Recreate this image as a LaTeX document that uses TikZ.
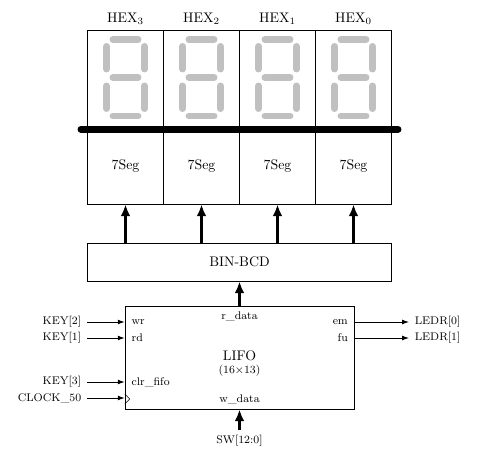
\documentclass[tikz,border=0pt]{standalone}
\usetikzlibrary{arrows.meta}
\definecolor{seggray}{RGB}{192,192,192}
\begin{document}
\begin{tikzpicture}[x=0.72pt,y=0.72pt,yscale=-1,xscale=1,
  disp/.style={draw,inner sep=0pt,minimum width=54.7pt,minimum height=71.3pt},
  segbox/.style={draw,inner sep=0pt,minimum width=54.7pt,minimum height=54pt},
  blk/.style={draw,inner sep=0pt},
  bus/.style={line width=5pt,line cap=round},
  seg/.style={seggray,line width=5pt,line cap=round},
  up/.style={line width=1.8pt,-{Latex[length=8.5pt,width=7pt]}},
  sig/.style={semithick,-{Latex[length=5pt,width=3.5pt]}},
  port/.style={font=\footnotesize,inner sep=1pt},
  pin/.style={font=\footnotesize,inner sep=4pt}]
\useasboundingbox (0,0) rectangle (485,458);

% Displays, segments and decoders
\foreach \i/\x in {3/125.5,2/201.5,1/277.5,0/353.5}{
  \node[disp] (disp\i) at (\x,79.5) {};
  \node[segbox] (seg\i) at (\x,166.5) {7Seg};
  \node (hex\i) at (\x,19) {HEX$_\i$};
  \draw[seg] (\x-12.5,39.5) -- (\x+12.5,39.5);
  \draw[seg] (\x-12.5,77.5) -- (\x+12.5,77.5);
  \draw[seg] (\x-12.5,116) -- (\x+12.5,116);
  \draw[seg] (\x-19,46.5) -- (\x-19,69);
  \draw[seg] (\x+19,46.5) -- (\x+19,69);
  \draw[seg] (\x-19,86) -- (\x-19,108.5);
  \draw[seg] (\x+19,86) -- (\x+19,108.5);
}
% Bus bar
\draw[bus] ([xshift=-4.5pt]disp3.south west) -- ([xshift=4.5pt]disp0.south east);

% BIN-BCD
\node[blk,minimum width=218.9pt,minimum height=27.4pt] (bcd) at (239.5,262) {BIN-BCD};
\foreach \i in {3,2,1,0}
  \draw[up] (bcd.north -| seg\i.south) -- (seg\i.south);

% LIFO
\node[blk,minimum width=164.9pt,minimum height=74.2pt] (lifo) at (239.5,357.5) {};
\node (lifoname) at (239.5,356) {LIFO};
\node[font=\footnotesize] (lifosize) at (239.5,371) {(16$\times$13)};
\draw[up] (lifo.north) -- (bcd.south);

% Ports
\node[port,anchor=west] (wr) at (130,322) {wr};
\node[port,anchor=west] (rd) at (130,338) {rd};
\node[port,anchor=west] (clr) at (130,382) {clr\_fifo};
\node[port] (rdata) at (239.5,316) {r\_data};
\node[port] (wdata) at (239.5,399) {w\_data};
\node[port,anchor=east] (em) at (349.5,322) {em};
\node[port,anchor=east] (fu) at (349.5,338) {fu};
\draw (lifo.west |- wdata) ++(0,-5) -- ++(5,5) -- ++(-5,5);

% Inputs
\node[pin,anchor=east] (key2) at (87,322) {KEY[2]};
\node[pin,anchor=east] (key1) at (87,338) {KEY[1]};
\node[pin,anchor=east] (key3) at (87,382) {KEY[3]};
\node[pin,anchor=east] (clk) at (87,398) {CLOCK\_50};
\foreach \k in {key2,key1,key3,clk}
  \draw[sig] (\k.east) -- (\k -| lifo.west);
\node[pin] (sw) at (239.5,441) {SW[12:0]};
\draw[up] (sw.north) -- (lifo.south);

% Outputs
\node[pin,anchor=west] (ledr0) at (409,322) {LEDR[0]};
\node[pin,anchor=west] (ledr1) at (409,338) {LEDR[1]};
\draw[sig] (em -| lifo.east) -- (ledr0.west);
\draw[sig] (fu -| lifo.east) -- (ledr1.west);
\end{tikzpicture}
\end{document}
